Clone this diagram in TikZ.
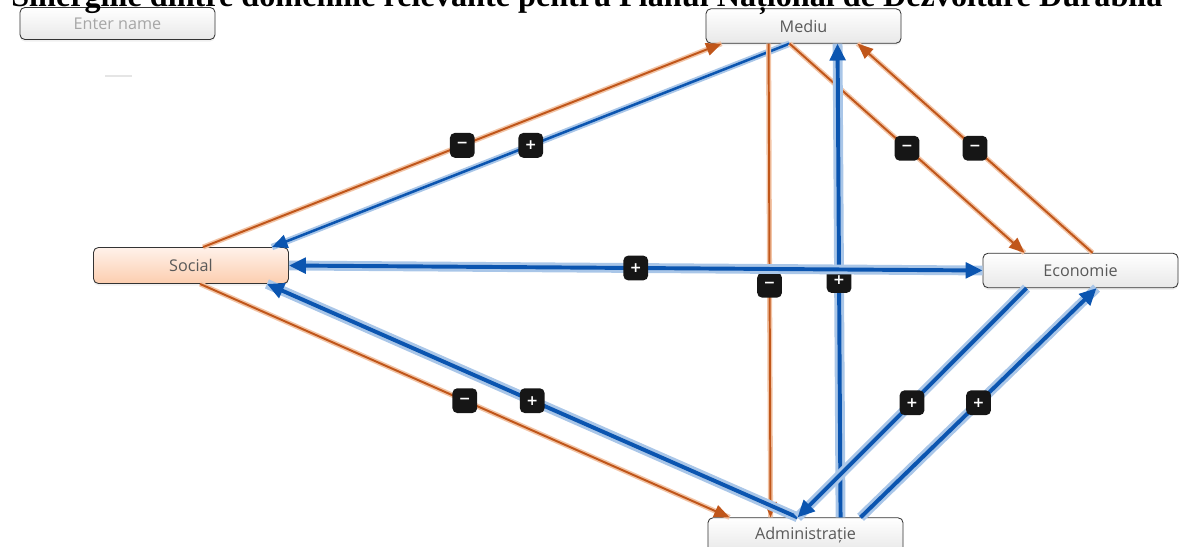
\documentclass[tikz,border=0pt]{standalone}
\usepackage{fontspec}
\setmainfont{Liberation Serif}
\setsansfont{Open Sans}
\newfontfamily\signfont{DejaVu Sans}
\usepackage{xcolor}
\usetikzlibrary{arrows.meta,calc,shadows}

\definecolor{linkorange}{HTML}{C0561A}
\definecolor{haloorange}{HTML}{F2C4A6}
\definecolor{linkblue}{HTML}{0B55B0}
\definecolor{haloblue}{HTML}{A9C6E8}
\definecolor{signblack}{HTML}{161616}
\definecolor{peachtop}{HTML}{FFF2EA}
\definecolor{peachbot}{HTML}{FCCDAF}

\begin{document}
\begin{tikzpicture}[x=0.025cm, y=-0.025cm,
  areabox/.style={draw=black!80, line width=0.6pt, rounded corners=3.5pt, minimum width=4.875cm, minimum height=0.86cm, top color=white, bottom color=black!9, font=\sffamily\fontsize{11.5}{13}\selectfont, text=black!65, drop shadow={opacity=0.12, shadow xshift=0pt, shadow yshift=-1.5pt}},
  signbox/.style={fill=signblack, rounded corners=3.5pt, minimum size=0.62cm, inner sep=0pt, text=white, font=\signfont\bfseries\fontsize{10}{10}\selectfont},
  neglink/.style={draw=linkorange, line width=1.4pt, -{Triangle[length=11pt,width=9pt]}, preaction={draw=haloorange, line width=3.6pt, -}},
  poslink/.style={draw=linkblue, line width=1.8pt, -{Triangle[length=11pt,width=9.5pt]}, preaction={draw=haloblue, line width=4.6pt, -}},
  posheavy/.style={draw=linkblue, line width=2.8pt, -{Triangle[length=12pt,width=11pt]}, preaction={draw=haloblue, line width=7pt, -}},
]
\useasboundingbox (0,0) rectangle (1197,546);

% domains
\node[areabox, text=black!35, minimum height=0.8cm] (entername) at (117.5,23.5) {Enter name};
\node[areabox] (mediu) at (803.5,26) {Mediu};
\node[areabox, top color=peachtop, bottom color=peachbot, minimum height=0.9cm] (social) at (191,265.5) {Social};
\node[areabox] (economie) at (1080.5,270.5) {Economie};
\node[areabox] (admin) at (805.5,535) {Administrație};

\draw[black!10, line width=1.2pt] (105,76) -- (132,76);

% links
\draw[neglink] ($(social.north west)+(110,0)$) -- node[signbox] (s1) {−} ($(mediu.south west)+(16,0)$);
\draw[poslink] ($(mediu.south west)+(84,0)$) -- node[signbox] (s2) {+} ($(social.north east)+(-17,0)$);
\draw[neglink] ($(mediu.south west)+(84,0)$) -- node[signbox] (s3) {−} ($(economie.north west)+(42,0)$);
\draw[neglink] ($(economie.north west)+(110,0)$) -- node[signbox] (s4) {−} ($(mediu.south west)+(152,0)$);
\draw[neglink] ($(mediu.south west)+(63,0)$) -- node[signbox, pos=0.51] (s5) {−} ($(admin.north west)+(63,0)$);
\draw[posheavy] ($(admin.north west)+(133,0)$) -- node[signbox] (s6) {+} ($(mediu.south west)+(132,0)$);
\draw[neglink] ($(social.south west)+(107,0)$) -- node[signbox] (s7) {−} ($(admin.north west)+(22,0)$);
\draw[posheavy] ($(admin.north west)+(90,0)$) -- node[signbox] (s8) {+} ($(social.south east)+(-22,0)$);
\draw[posheavy] ($(economie.south west)+(44,0)$) -- node[signbox] (s9) {+} ($(admin.north west)+(90,0)$);
\draw[posheavy] ($(admin.north west)+(153,0)$) -- node[signbox] (s10) {+} ($(economie.south west)+(114,0)$);
\draw[posheavy, {Triangle[length=12pt,width=11pt]}-{Triangle[length=12pt,width=11pt]}] (social.east) -- node[signbox] (s11) {+} (economie.west);

% title, cut by the page edge
\node[anchor=base west, font=\bfseries\fontsize{22.9}{26}\selectfont, inner sep=0pt] (title) at (11,7) {Sinergiile dintre domeniile relevante pentru Planul Național de Dezvoltare Durabilă};

\end{tikzpicture}
\end{document}
